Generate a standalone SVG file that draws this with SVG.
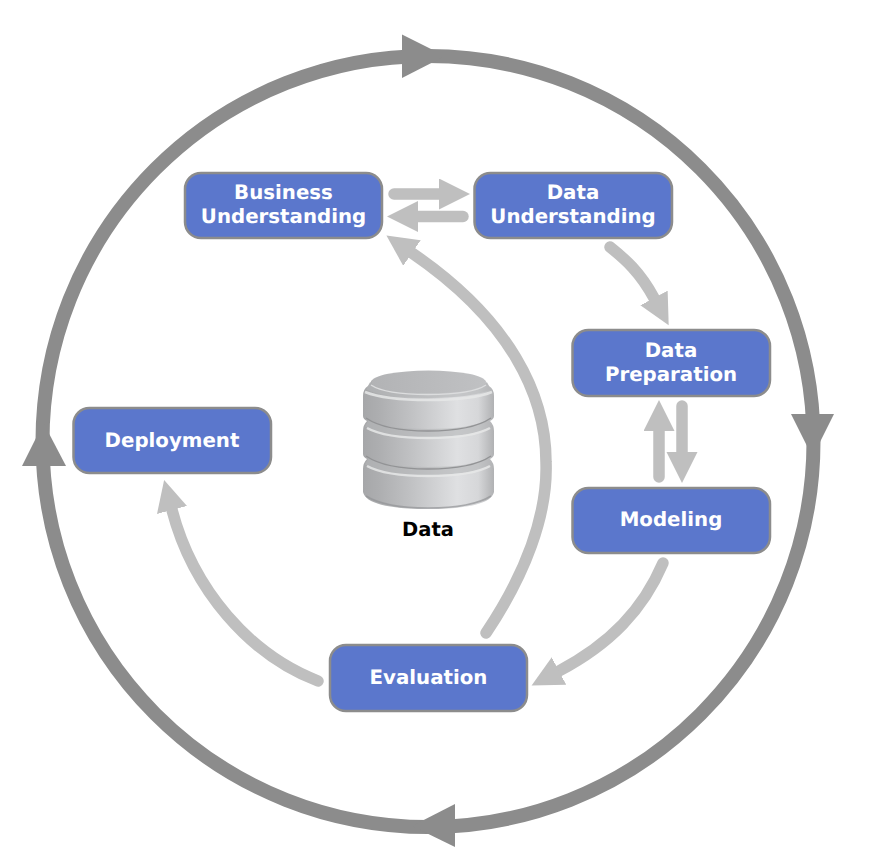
<svg xmlns="http://www.w3.org/2000/svg" width="876" height="860" viewBox="0 0 876 860">
<defs>
<linearGradient id="cyl" x1="0" y1="0" x2="1" y2="0">
<stop offset="0" stop-color="#a6a7a9"/><stop offset="0.12" stop-color="#adaeb0"/><stop offset="0.35" stop-color="#bfc0c2"/><stop offset="0.72" stop-color="#dfe0e2"/><stop offset="0.88" stop-color="#d6d7d9"/><stop offset="1" stop-color="#b0b1b3"/>
</linearGradient>
<linearGradient id="top" x1="0" y1="0" x2="1" y2="0">
<stop offset="0" stop-color="#b2b3b5"/><stop offset="1" stop-color="#c0c1c3"/>
</linearGradient>
<marker id="ah" markerUnits="userSpaceOnUse" markerWidth="32" markerHeight="32" refX="0" refY="15.500" orient="auto">
<path d="M0 0L31 15.500L0 31Z" fill="#bfbfbf"/>
</marker>
<style>
.ring{fill:none;stroke:#8c8c8c;stroke-width:14}
.head{fill:#8c8c8c}
.flow{fill:none;stroke:#bfbfbf;stroke-width:11.500;stroke-linecap:round;marker-end:url(#ah)}
.box{fill:#5b77cc;stroke:#8c8c8c;stroke-width:2.500}
.lbl{font-family:"DejaVu Sans",Verdana,sans-serif;font-weight:700;font-size:19.800px;fill:#fff;text-anchor:middle;text-rendering:geometricPrecision}
.ridge{fill:none;stroke:#e6e7e8;stroke-width:2.500;stroke-opacity:.85}
.band{fill:none;stroke:#b4b5b7;stroke-width:8;stroke-opacity:.6}
.shade{fill:none;stroke:#929395;stroke-width:1.500}
</style>
</defs>
<g id="connectors">
<circle class="ring" cx="428" cy="441.500" r="385.500"/>
<path class="head" d="M402 34.500L445 56L402 78Z"/>
<path class="head" d="M791 414L834 414L812.500 457Z"/>
<path class="head" d="M455 804L455 847L412 826Z"/>
<path class="head" d="M22 466L66 466L43.500 423Z"/>
<path class="flow" d="M394 194L439 194"/>
<path class="flow" d="M463 216.500L418 216.500"/>
<path class="flow" d="M659 477L659 431"/>
<path class="flow" d="M682 406L682 452"/>
<path class="flow" d="M610 247C625 259 640 272 654 298"/>
<path class="flow" d="M486 633C525 575 548 515 546 462C546 395 510 320 412 253"/>
<path class="flow" d="M663 563C643 610 610 644 559 671"/>
<path class="flow" d="M318 681C250 655 193 590 172 510"/>
</g>
<g id="business-understanding"><rect class="box" x="185" y="173" width="197" height="65" rx="16"/><text class="lbl" x="283.500" y="199">Business</text><text class="lbl" x="283.500" y="223">Understanding</text></g>
<g id="data-understanding"><rect class="box" x="474.500" y="173" width="197.500" height="65" rx="16"/><text class="lbl" x="573" y="199">Data</text><text class="lbl" x="573" y="223">Understanding</text></g>
<g id="data-preparation"><rect class="box" x="572.500" y="330" width="197.500" height="66" rx="16"/><text class="lbl" x="671" y="357">Data</text><text class="lbl" x="671" y="381">Preparation</text></g>
<g id="modeling"><rect class="box" x="572.500" y="488" width="197.500" height="65" rx="16"/><text class="lbl" x="671" y="526">Modeling</text></g>
<g id="evaluation"><rect class="box" x="330" y="645" width="197" height="66" rx="16"/><text class="lbl" x="428.500" y="684">Evaluation</text></g>
<g id="deployment"><rect class="box" x="73.500" y="408" width="197.500" height="65" rx="16"/><text class="lbl" x="172" y="447">Deployment</text></g>
<g id="data">
<path d="M372 380Q428 362 485 380L489 386Q494 389 494 396L494 416Q494 419 490 421Q494 425 494 431L494 454Q494 457 490 459Q494 463 494 469L494 492Q490 509 428 509Q367 509 363 492L363 469Q363 463 367 459Q363 457 363 454L363 431Q363 425 367 421Q363 419 363 416L363 396Q363 389 368 386Z" fill="url(#cyl)"/>
<path class="band" d="M367 461Q385 471 428 471Q472 471 490 461"/>
<path class="band" d="M367 423Q385 433 428 433Q472 433 490 423"/>
<path class="band" d="M368 386Q385 394 428 394Q472 394 489 386"/>
<path class="shade" d="M366 418Q385 431 428 431Q472 431 491 418"/>
<path class="shade" d="M366 456Q385 469 428 469Q472 469 491 456"/>
<path class="shade" stroke-opacity=".7" d="M366 496Q385 508 428 508Q472 508 491 496"/>
<path class="ridge" d="M365 392Q385 400 428 400Q472 400 492 392"/>
<path class="ridge" d="M367 428Q385 438 428 438Q472 438 490 428"/>
<path class="ridge" d="M367 466Q385 476 428 476Q472 476 490 466"/>
<ellipse cx="428.500" cy="382" rx="57" ry="11.500" fill="url(#top)"/>
<path fill="none" stroke="#dcddde" stroke-width="1.500" d="M371 385Q385 394.500 428 394.500Q472 394.500 486 385"/>
<text x="428" y="536" font-family="'DejaVu Sans',Verdana,sans-serif" font-weight="700" font-size="19.500" text-anchor="middle" fill="#000" text-rendering="geometricPrecision">Data</text>
</g>
</svg>
